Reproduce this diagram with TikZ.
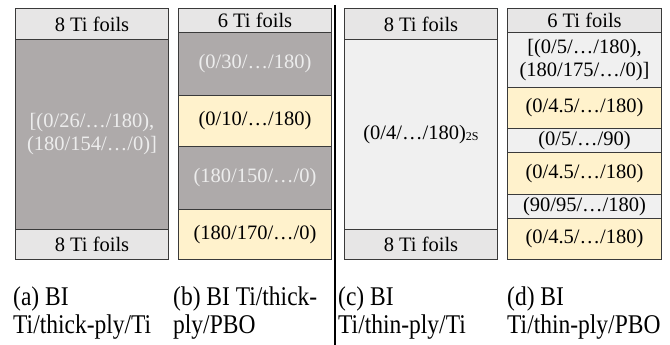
\documentclass[tikz,border=0pt]{standalone}
\usepackage{fontspec}
\setmainfont{Liberation Serif}

\definecolor{foilgray}{HTML}{E7E6E6}
\definecolor{thickgray}{HTML}{AEAAAA}
\definecolor{thingray}{HTML}{F0F0F0}
\definecolor{pbo}{HTML}{FFF2CC}
\definecolor{edge}{HTML}{3A3A3A}
\definecolor{lighttext}{HTML}{EDEDED}

\begin{document}
\begin{tikzpicture}[x=1pt,y=-1pt,
  layer/.style={draw=edge, line width=1pt, anchor=north west, inner sep=0pt,
    align=center, font=\fontsize{20.5}{23}\selectfont},
  foil/.style={layer, fill=foilgray},
  thick/.style={layer, fill=thickgray, text=lighttext},
  thin/.style={layer, fill=thingray},
  zylon/.style={layer, fill=pbo},
  wa/.style={minimum width=153pt},
  wd/.style={minimum width=154pt},
  caption/.style={anchor=base west, inner sep=0pt, font=\fontsize{23.5}{28}\selectfont}]

\useasboundingbox (0,0) rectangle (670,345);

% (a) thick plies between two Ti stacks
\node[foil,  wa, minimum height=31pt]  (a1) at (15,8)   {8 Ti foils};
\node[thick, wa, minimum height=190pt] (a2) at (15,39)  {[(0/26/…/180),\\(180/154/…/0)]};
\node[foil,  wa, minimum height=30pt]  (a3) at (15,229) {8 Ti foils};

% (b) thick plies alternating with PBO
\node[foil,  wa, minimum height=24pt] (b1) at (178,8)   {6 Ti foils};
\node[thick, wa, minimum height=63pt] (b2) at (178,32)  {(0/30/…/180)};
\node[zylon, wa, minimum height=51pt] (b3) at (178,95)  {(0/10/…/180)};
\node[thick, wa, minimum height=63pt] (b4) at (178,146) {(180/150/…/0)};
\node[zylon, wa, minimum height=50pt] (b5) at (178,209) {(180/170/…/0)};

% divider between thick-ply and thin-ply groups
\coordinate (divtop) at (335,5);
\coordinate (divbot) at (335,345);
\draw[line width=2.2pt] (divtop) -- (divbot);

% (c) thin plies between two Ti stacks
\node[foil, wa, minimum height=31pt]  (c1) at (344,8)   {8 Ti foils};
\node[thin, wa, minimum height=190pt] (c2) at (344,39)
  {(0/4/…/180)\raisebox{-1.5pt}{\fontsize{12}{12}\selectfont 2S}};
\node[foil, wa, minimum height=30pt]  (c3) at (344,229) {8 Ti foils};

% (d) thin plies alternating with PBO
\node[foil,  wd, minimum height=24pt] (d1) at (507,8)   {6 Ti foils};
\node[thin,  wd, minimum height=55pt] (d2) at (507,32)  {[(0/5/…/180),\\(180/175/…/0)]};
\node[zylon, wd, minimum height=41pt] (d3) at (507,87)  {(0/4.5/…/180)};
\node[thin,  wd, minimum height=24pt] (d4) at (507,128) {(0/5/…/90)};
\node[zylon, wd, minimum height=42pt] (d5) at (507,152) {(0/4.5/…/180)};
\node[thin,  wd, minimum height=24pt] (d6) at (507,194) {(90/95/…/180)};
\node[zylon, wd, minimum height=41pt] (d7) at (507,218) {(0/4.5/…/180)};

% captions
\node[caption] (capa1) at (13,305)  {\scalebox{1}[1.15]{(a) BI}};
\node[caption] (capa2) at (13,333)  {\scalebox{1}[1.15]{Ti/thick-ply/Ti}};
\node[caption] (capb1) at (173,305) {\scalebox{1}[1.15]{(b) BI Ti/thick-}};
\node[caption] (capb2) at (173,333) {\scalebox{1}[1.15]{ply/PBO}};
\node[caption] (capc1) at (338,305) {\scalebox{1}[1.15]{(c) BI}};
\node[caption] (capc2) at (338,333) {\scalebox{1}[1.15]{Ti/thin-ply/Ti}};
\node[caption] (capd1) at (507,305) {\scalebox{1}[1.15]{(d) BI}};
\node[caption] (capd2) at (507,333) {\scalebox{1}[1.15]{Ti/thin-ply/PBO}};
\end{tikzpicture}
\end{document}
